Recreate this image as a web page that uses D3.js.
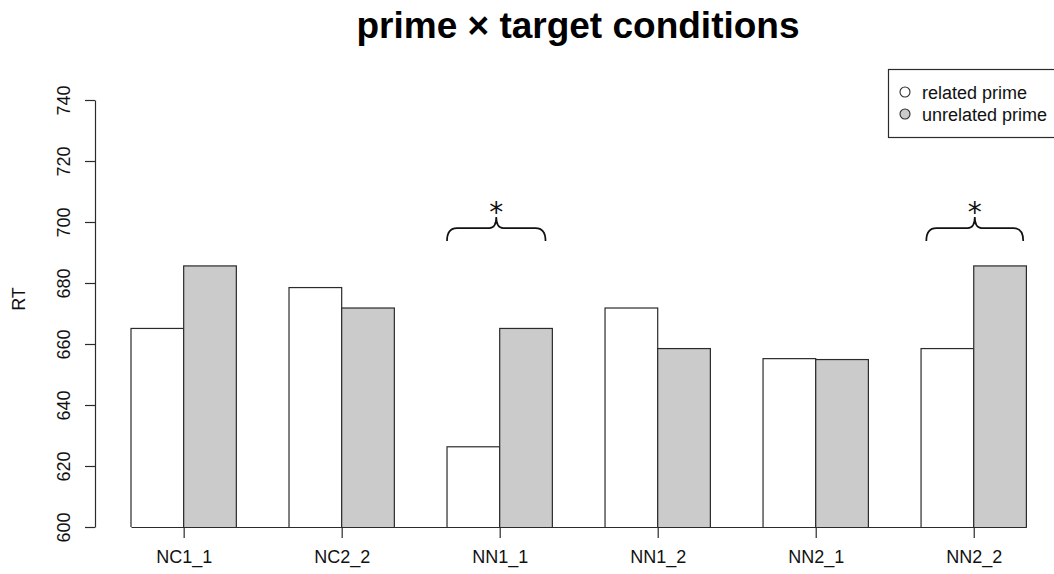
<!DOCTYPE html>
<html>
<head>
<meta charset="utf-8">
<script src="https://cdn.jsdelivr.net/npm/d3@7"></script>
<style>
  html, body { margin: 0; padding: 0; background: #fff; }
  svg { display: block; font-family: "Liberation Sans", Arial, Helvetica, sans-serif; }
</style>
</head>
<body>
<svg id="chart" width="1054" height="574"></svg>
<script>
// Mean reaction times per prime × target condition
const categories = ["NC1_1", "NC2_2", "NN1_1", "NN1_2", "NN2_1", "NN2_2"];
const relatedRT   = [665.1, 678.5, 626.3, 671.8, 655.2, 658.5];
const unrelatedRT = [685.6, 671.8, 665.1, 658.5, 654.9, 685.6];
const seriesNames = ["related prime", "unrelated prime"];
const yTicks = [600, 620, 640, 660, 680, 700, 720, 740];
// Significant contrasts marked with a brace and an asterisk
const sigCategories = ["NN1_1", "NN2_2"];
const sigLabel = "*";

const svg = d3.select("#chart");
const W = 1054;

// Bar layout: each group has a one-bar gap before it, then two bars side by side
const x = d3.scaleLinear().domain([1, 18]).range([131, 1026.4]);
const y = d3.scaleLinear().domain([600, 740]).range([527, 100]);
const fills = ["#ffffff", "#cbcbcb"];
const ink = "#2b2b2b";
const fontSize = 18;

const bars = [];
categories.forEach((c, i) => {
  const start = 1 + 3 * i;
  bars.push({ cat: c, s: 0, x0: start,     x1: start + 1, v: relatedRT[i] });
  bars.push({ cat: c, s: 1, x0: start + 1, x1: start + 2, v: unrelatedRT[i] });
});

// Bars are cut off at the bottom of the value range
svg.append("defs").append("clipPath").attr("id", "plotClip")
  .append("rect").attr("x", 0).attr("y", 0).attr("width", W).attr("height", y(600));

svg.append("g").attr("clip-path", "url(#plotClip)")
  .selectAll("rect").data(bars).join("rect")
  .attr("x", d => x(d.x0))
  .attr("y", d => y(d.v))
  .attr("width", d => x(d.x1) - x(d.x0))
  .attr("height", d => y(590) - y(d.v))
  .attr("fill", d => fills[d.s])
  .attr("stroke", ink)
  .attr("stroke-width", 1.2);

// Y axis with vertical tick labels
const yAxis = d3.axisLeft(y).tickValues(yTicks).tickSize(10).tickSizeOuter(0);
const gy = svg.append("g").attr("transform", "translate(95,0)").call(yAxis);
gy.select(".domain").attr("stroke", ink).attr("stroke-width", 1.2);
gy.selectAll(".tick line").attr("stroke", ink).attr("stroke-width", 1.2);
gy.selectAll(".tick text")
  .attr("font-size", fontSize).attr("fill", "#111")
  .attr("text-anchor", "middle")
  .attr("transform", "translate(-25,0) rotate(-90)")
  .attr("x", 0).attr("y", 0).attr("dy", "0");

// X axis: ticks at the centre of each pair of bars
const tickPos = categories.map((c, i) => 2 + 3 * i);
const xAxis = d3.axisBottom(x).tickValues(tickPos)
  .tickFormat((d, i) => categories[i]).tickSize(11).tickSizeOuter(0).tickPadding(12);
const gx = svg.append("g").attr("transform", `translate(0,${y(600)})`).call(xAxis);
gx.select(".domain").attr("stroke", ink).attr("stroke-width", 1.2);
gx.selectAll(".tick line").attr("stroke", ink).attr("stroke-width", 1.2);
gx.selectAll(".tick text").attr("font-size", fontSize).attr("fill", "#111");

// Y axis title
svg.append("text")
  .attr("transform", "translate(25,299) rotate(-90)")
  .attr("text-anchor", "middle").attr("font-size", fontSize).attr("fill", "#111")
  .text("RT");

// Title
svg.append("text")
  .attr("x", 578).attr("y", 38)
  .attr("text-anchor", "middle").attr("font-size", 37).attr("font-weight", "bold")
  .attr("fill", "#000")
  .text("prime × target conditions");

// Curly braces with significance stars
const braceSpan = { "NN1_1": [7.0, 8.87], "NN2_2": [16.1, 17.94] };
const braceEnd = 693.8, braceMid = 698.0, braceTip = 701.6, starY = 704.5;
sigCategories.forEach(c => {
  const [a, b] = braceSpan[c];
  const x0 = x(a), x1 = x(b), xc = (x0 + x1) / 2;
  const yb = y(braceEnd), yh = y(braceMid), yt = y(braceTip);
  const r = 10, rc = 7;
  const p = d3.path();
  p.moveTo(x0, yb);
  p.quadraticCurveTo(x0, yh, x0 + r, yh);
  p.lineTo(xc - rc, yh);
  p.quadraticCurveTo(xc, yh, xc, yt);
  p.quadraticCurveTo(xc, yh, xc + rc, yh);
  p.lineTo(x1 - r, yh);
  p.quadraticCurveTo(x1, yh, x1, yb);
  svg.append("path").attr("d", p.toString())
    .attr("fill", "none").attr("stroke", "#111").attr("stroke-width", 1.7);
  svg.append("text")
    .attr("x", xc).attr("y", y(starY) + 14)
    .attr("text-anchor", "middle").attr("font-size", 28)
    .attr("font-family", "'DejaVu Sans', sans-serif").attr("fill", "#111")
    .text(sigLabel);
});

// Legend
const lg = svg.append("g");
lg.append("rect").attr("x", 888.5).attr("y", 69.5).attr("width", 200).attr("height", 68)
  .attr("fill", "#fff").attr("stroke", ink).attr("stroke-width", 1.2);
seriesNames.forEach((name, i) => {
  const cy = 92 + i * 22;
  lg.append("circle").attr("cx", 905).attr("cy", cy).attr("r", 5)
    .attr("fill", fills[i]).attr("stroke", ink).attr("stroke-width", 1.1);
  lg.append("text").attr("x", 922).attr("y", cy + 6.5)
    .attr("font-size", fontSize).attr("fill", "#111").text(name);
});
</script>
</body>
</html>
